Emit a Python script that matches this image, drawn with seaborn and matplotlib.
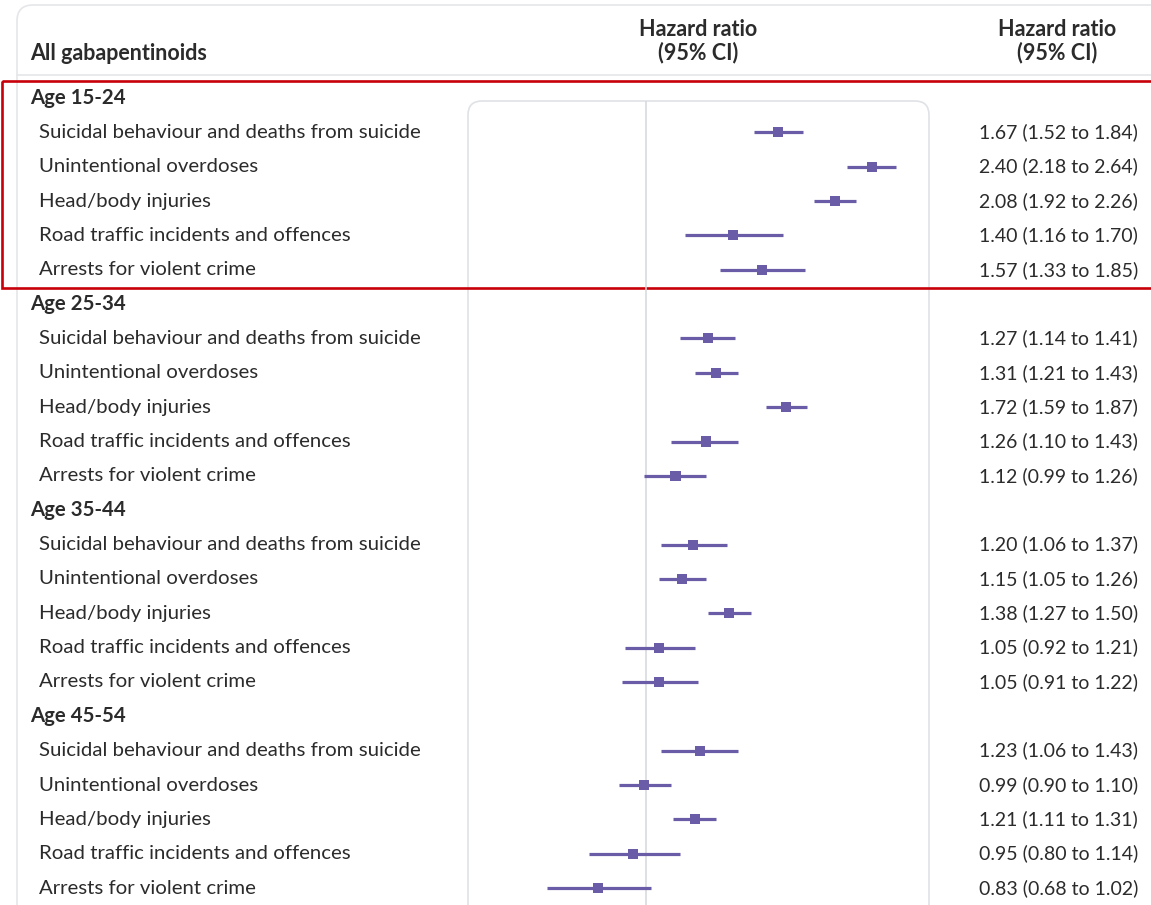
import matplotlib
matplotlib.use("Agg")
import matplotlib.pyplot as plt
from matplotlib.patches import FancyBboxPatch, Rectangle
import numpy as np
import pandas as pd
import seaborn as sns

# ---- data -------------------------------------------------------------
groups = ["Age 15-24", "Age 25-34", "Age 35-44", "Age 45-54"]
outcomes = [
    "Suicidal behaviour and deaths from suicide",
    "Unintentional overdoses",
    "Head/body injuries",
    "Road traffic incidents and offences",
    "Arrests for violent crime",
]
hr = [1.67, 2.40, 2.08, 1.40, 1.57,
      1.27, 1.31, 1.72, 1.26, 1.12,
      1.20, 1.15, 1.38, 1.05, 1.05,
      1.23, 0.99, 1.21, 0.95, 0.83]
ci_low = [1.52, 2.18, 1.92, 1.16, 1.33,
          1.14, 1.21, 1.59, 1.10, 0.99,
          1.06, 1.05, 1.27, 0.92, 0.91,
          1.06, 0.90, 1.11, 0.80, 0.68]
ci_high = [1.84, 2.64, 2.26, 1.70, 1.85,
           1.41, 1.43, 1.87, 1.43, 1.26,
           1.37, 1.26, 1.50, 1.21, 1.22,
           1.43, 1.10, 1.31, 1.14, 1.02]
title_left = "All gabapentinoids"
col_header = "Hazard ratio\n(95% CI)"

# ---- style ------------------------------------------------------------
sns.set_theme(style="white")
plt.rcParams["font.family"] = ["Lato", "DejaVu Sans"]

W, H = 1151, 905
TEXT = "#2b2b2b"
PURPLE = "#6b5ca8"
GREY = "#dfe2e6"
RED = "#c8000a"

FS_HEAD = 15.5
FS_GROUP = 14.7
FS_ITEM = 14.7
FS_VAL = 14.0

# layout in pixels
ROW0, DY = 98.0, 34.35
PANEL_L, PANEL_R, PANEL_T = 468, 929, 101

rows = []
for g in range(len(groups)):
    for k in range(len(outcomes)):
        rows.append(g * 6 + k + 1)
df = pd.DataFrame({"row": rows, "hr": hr, "lo": ci_low, "hi": ci_high,
                   "outcome": outcomes * len(groups)})


def ypix(r):
    return ROW0 + DY * r


fig = plt.figure(figsize=(W / 100, H / 100), dpi=100)
fig.patch.set_facecolor("white")

# background canvas in pixel coordinates
bg = fig.add_axes([0, 0, 1, 1])
bg.set_xlim(0, W)
bg.set_ylim(H, 0)
bg.axis("off")

# outer card and header separator
bg.add_patch(FancyBboxPatch((17, 5), 1300, 1100,
                            boxstyle="round,pad=0,rounding_size=16",
                            fc="none", ec="#e4e6e9", lw=1.2))
bg.plot([17, W], [75, 75], color="#e4e6e9", lw=1.2)

# column headers
bg.text(30, 53, title_left, fontsize=FS_HEAD, fontweight="bold",
        color=TEXT, ha="left", va="center")
for cx in (698, 1057):
    bg.text(cx, 30, col_header.split("\n")[0], fontsize=FS_HEAD,
            fontweight="bold", color=TEXT, ha="center", va="center")
    bg.text(cx, 53, col_header.split("\n")[1], fontsize=FS_HEAD,
            fontweight="bold", color=TEXT, ha="center", va="center")

# plot panel frame
bg.add_patch(FancyBboxPatch((PANEL_L, PANEL_T), PANEL_R - PANEL_L, 900,
                            boxstyle="round,pad=0,rounding_size=14",
                            fc="none", ec=GREY, lw=1.2))

# row labels and value text
for g, name in enumerate(groups):
    bg.text(30, ypix(g * 6), name, fontsize=FS_GROUP, fontweight="bold",
            color=TEXT, ha="left", va="center")
for _, r in df.iterrows():
    y = ypix(r["row"])
    bg.text(39, y, r["outcome"], fontsize=FS_ITEM, color=TEXT,
            ha="left", va="center")
    bg.text(1138, y, f"{r['hr']:.2f} ({r['lo']:.2f} to {r['hi']:.2f})",
            fontsize=FS_VAL, color=TEXT, ha="right", va="center")

# highlight box around first age band
bg.add_patch(Rectangle((2, 81), 1170, 207.5, fc="none", ec=RED, lw=1.9))

# ---- forest panel -----------------------------------------------------
ax = fig.add_axes([PANEL_L / W, 0, (PANEL_R - PANEL_L) / W, 1 - PANEL_T / H])
ax.patch.set_alpha(0)
ax.set_xscale("log")
ax.set_xlim(0.5, 3.0)
ax.set_ylim((H - ROW0) / DY, (PANEL_T - ROW0) / DY)
ax.axvline(1.0, color="#d5d8dc", lw=1.1, zorder=1)
ax.hlines(df["row"], df["lo"], df["hi"], color=PURPLE, lw=2.3, zorder=2)
sns.scatterplot(data=df, x="hr", y="row", marker="s", s=52, color=PURPLE,
                edgecolor="none", linewidth=0, ax=ax, zorder=3, legend=False)
ax.set_axis_off()

fig.savefig("out.png", dpi=100, facecolor="white")
